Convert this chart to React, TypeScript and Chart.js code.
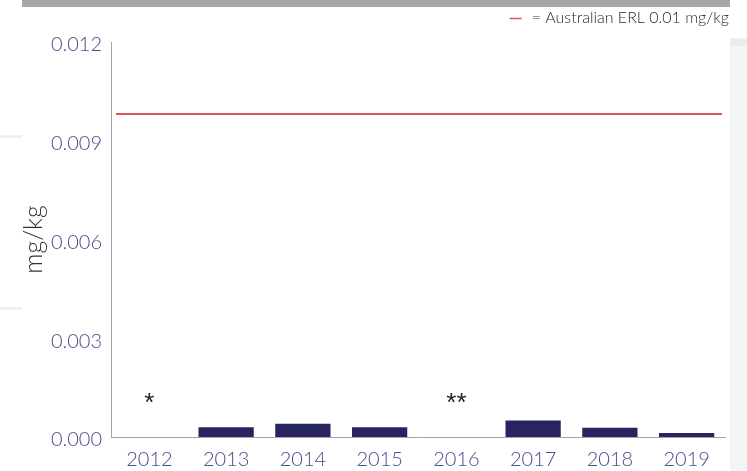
import React, { useEffect, useRef } from "react";
import { Chart, registerables } from "chart.js";

Chart.register(...registerables);

const YEARS = ["2012", "2013", "2014", "2015", "2016", "2017", "2018", "2019"];
const VALUES: (number | null)[] = [null, 0.0003, 0.0004, 0.0003, null, 0.0005, 0.00028, 0.00012];
const NOTES = ["*", "", "", "", "**", "", "", ""];
const NOTE_LEVEL = 0.0008;
const ERL_VALUE = 0.0098;
const Y_TICKS = [0, 0.003, 0.006, 0.009, 0.012];
const LEGEND_TEXT = "= Australian ERL 0.01 mg/kg";
const AXIS_TITLE = "mg/kg";

const TICK_COLOR = "#4a4a8e";
const BAR_COLOR = "#27245f";
const ERL_COLOR = "#d9565a";
const FONT = "Lato, 'Liberation Sans', sans-serif";

const decorPlugin = {
  id: "decor",
  beforeDraw(chart: any) {
    const ctx = chart.ctx;
    ctx.save();
    ctx.fillStyle = "#ffffff";
    ctx.fillRect(0, 0, chart.width, chart.height);
    // top grey band
    ctx.fillStyle = "#a7a7a7";
    ctx.fillRect(22, 0, 708, 7);
    // right side panel
    ctx.fillStyle = "#f4f4f4";
    ctx.fillRect(730, 38, 17, chart.height - 38);
    ctx.fillStyle = "#ebebeb";
    ctx.fillRect(730, 39, 17, 7);
    // faint left marks
    ctx.fillStyle = "#f0f0f0";
    ctx.fillRect(0, 135, 22, 3);
    ctx.fillRect(0, 307, 22, 3);
    ctx.restore();
  },
  afterDatasetsDraw(chart: any) {
    const ctx = chart.ctx;
    const x = chart.scales.x;
    const y = chart.scales.y;
    const area = chart.chartArea;
    ctx.save();
    // ERL reference line
    const ly = Math.round(y.getPixelForValue(ERL_VALUE));
    ctx.strokeStyle = ERL_COLOR;
    ctx.lineWidth = 2;
    ctx.beginPath();
    ctx.moveTo(area.left + 5, ly);
    ctx.lineTo(area.right - 3, ly);
    ctx.stroke();
    // notes (no data markers)
    ctx.fillStyle = "#222222";
    ctx.font = "26px 'Liberation Sans', sans-serif";
    ctx.textAlign = "center";
    ctx.textBaseline = "alphabetic";
    NOTES.forEach((n, i) => {
      if (!n) return;
      ctx.fillText(n, x.getPixelForValue(i), y.getPixelForValue(NOTE_LEVEL));
    });
    // legend
    ctx.font = `300 16px ${FONT}`;
    ctx.textAlign = "right";
    ctx.textBaseline = "middle";
    ctx.fillStyle = "#2a2a2a";
    ctx.fillText(LEGEND_TEXT, 729, 18);
    const tw = ctx.measureText(LEGEND_TEXT).width;
    ctx.strokeStyle = ERL_COLOR;
    ctx.lineWidth = 1.5;
    ctx.beginPath();
    ctx.moveTo(729 - tw - 22, 18.5);
    ctx.lineTo(729 - tw - 10, 18.5);
    ctx.stroke();
    ctx.restore();
  },
};

export default function App() {
  const ref = useRef<HTMLCanvasElement>(null);
  useEffect(() => {
    document.body.style.margin = "0";
    const chart = new Chart(ref.current as HTMLCanvasElement, {
      type: "bar",
      data: {
        labels: YEARS,
        datasets: [
          {
            data: VALUES,
            backgroundColor: BAR_COLOR,
            borderWidth: 0,
            categoryPercentage: 1,
            barPercentage: 0.72,
          },
        ],
      },
      options: {
        responsive: false,
        animation: false,
        layout: { padding: { top: 42, right: 22, left: 0, bottom: 0 } },
        plugins: { legend: { display: false }, tooltip: { enabled: false } },
        scales: {
          x: {
            grid: { display: false, drawTicks: false },
            border: { display: true, color: "#a4a3ad", width: 1 },
            ticks: { color: TICK_COLOR, font: { family: FONT, size: 20, weight: "300" }, padding: 11 },
            afterFit: (s: any) => { s.height = 34; },
          },
          y: {
            min: 0,
            max: 0.012,
            grid: { display: false, drawTicks: false },
            border: { display: true, color: "#a4a3ad", width: 1 },
            afterBuildTicks: (s: any) => { s.ticks = Y_TICKS.map((v) => ({ value: v })); },
            ticks: {
              color: TICK_COLOR,
              font: { family: FONT, size: 20, weight: "300", lineHeight: 0.3 },
              padding: 9,
              callback: (v: any) => ["", Number(v).toFixed(3)],
            },
            title: {
              display: true,
              text: AXIS_TITLE,
              color: "#333333",
              font: { family: FONT, size: 25, weight: "300", lineHeight: 1 },
              padding: { top: 21, bottom: 0 },
            },
            afterFit: (s: any) => { s.width = 111; },
          },
        },
      },
      plugins: [decorPlugin],
    });
    return () => chart.destroy();
  }, []);
  return (
    <div style={{ position: "relative", width: 747, height: 471 }}>
      <canvas ref={ref} width={747} height={471} style={{ display: "block" }} />
    </div>
  );
}
